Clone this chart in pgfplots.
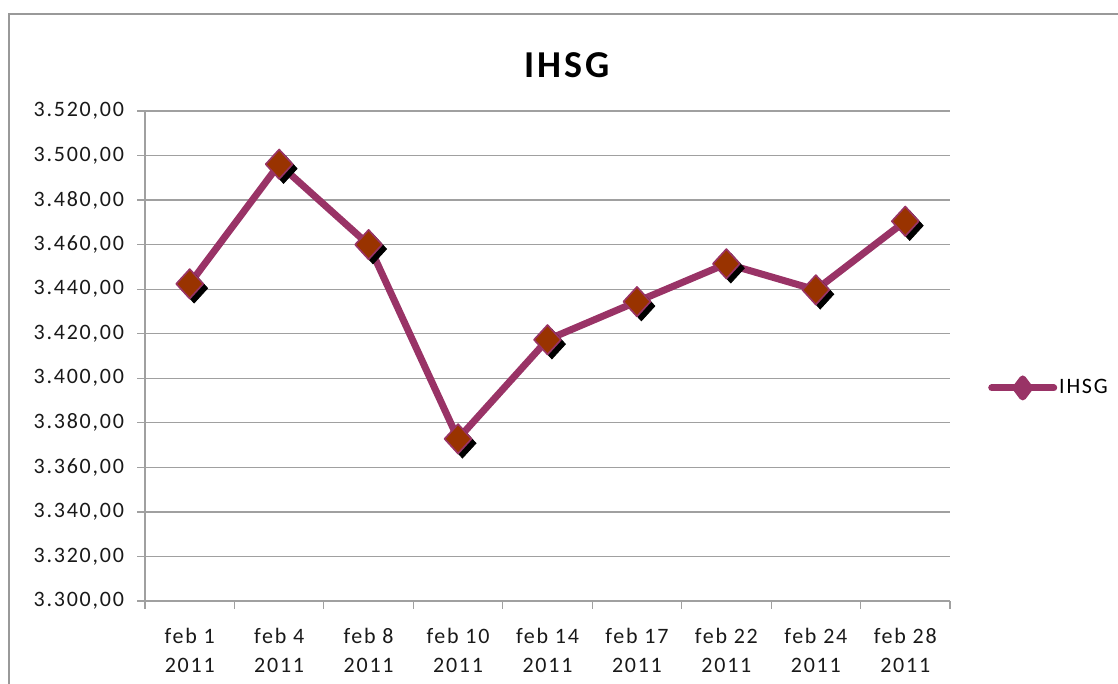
\documentclass[border=0pt]{standalone}
\usepackage{fontspec}
\setmainfont{Carlito}[LetterSpace=8]
\usepackage{pgfplots}
\pgfplotsset{compat=1.18}
\definecolor{plum}{HTML}{993366}
\definecolor{brown}{HTML}{993300}
\definecolor{gridgray}{HTML}{A0A0A0}
\begin{document}
\begin{tikzpicture}
\useasboundingbox (0,0) rectangle (559pt,342pt);
\draw[gray!80, line width=0.8pt] (4.5pt,-2pt) -- (4.5pt,335pt) -- (562pt,335pt);
\begin{axis}[
  at={(72.5pt,41.5pt)}, anchor=south west,
  scale only axis, width=402.5pt, height=245pt,
  xmin=-0.5, xmax=8.5, ymin=3300, ymax=3520,
  axis x line*=bottom, axis y line*=left,
  axis line style={gridgray, line width=0.6pt},
  ytick={3300,3320,...,3520},
  ymajorgrids, major grid style={gridgray, line width=0.6pt},
  tick align=outside, major tick length=4pt,
  tick style={gridgray, line width=0.6pt},
  y tick label style={xshift=-3pt},
  /pgf/number format/.cd, fixed, fixed zerofill, precision=2, use comma, 1000 sep={.}, assume math mode=true,
  /pgfplots/.cd,
  tick label style={font=\fontsize{11}{14.5}\selectfont, text=black!90},
  xtick={-0.5,0.5,...,8.5}, xticklabels={},
  extra x ticks={0,1,2,3,4,5,6,7,8},
  extra x tick labels={{feb 1\\2011},{feb 4\\2011},{feb 8\\2011},{feb 10\\2011},{feb 14\\2011},{feb 17\\2011},{feb 22\\2011},{feb 24\\2011},{feb 28\\2011}},
  extra x tick style={major tick length=0pt, x tick label style={align=center, yshift=-10pt}},
  title={IHSG},
  title style={at={(0.524,1.0695)}, anchor=center, font=\bfseries\fontsize{19}{22}\selectfont},
  legend style={at={(1.047,0.4347)}, anchor=west, draw=none, fill=none, inner sep=0pt,
    font=\fontsize{11}{13}\selectfont, nodes={inner sep=1pt}},
  legend cell align=left,
  legend image code/.code={
    \draw[#1, mark=none, line cap=round] (0pt,0pt) -- (31pt,0pt);
    \draw[#1, only marks, mark options={scale=0.5}] plot coordinates {(15.5pt,0pt)};
  },
  clip=false,
]
\addplot[forget plot, only marks, mark=diamond*, mark size=9pt,
  mark options={fill=black, draw=black, xshift=2.2pt, yshift=-2.2pt, yscale=0.82}]
  coordinates {(0,3442.4) (1,3496.1) (2,3460.0) (3,3372.8) (4,3417.3) (5,3434.4) (6,3451.4) (7,3439.7) (8,3470.5)};
\addplot[plum, line width=3.5pt, line join=round, mark=diamond*, mark size=9pt,
  mark options={fill=brown, draw=plum, line width=0.8pt, yscale=0.82}]
  coordinates {(0,3442.4) (1,3496.1) (2,3460.0) (3,3372.8) (4,3417.3) (5,3434.4) (6,3451.4) (7,3439.7) (8,3470.5)};
\addlegendentry{IHSG}
\end{axis}
\end{tikzpicture}
\end{document}
